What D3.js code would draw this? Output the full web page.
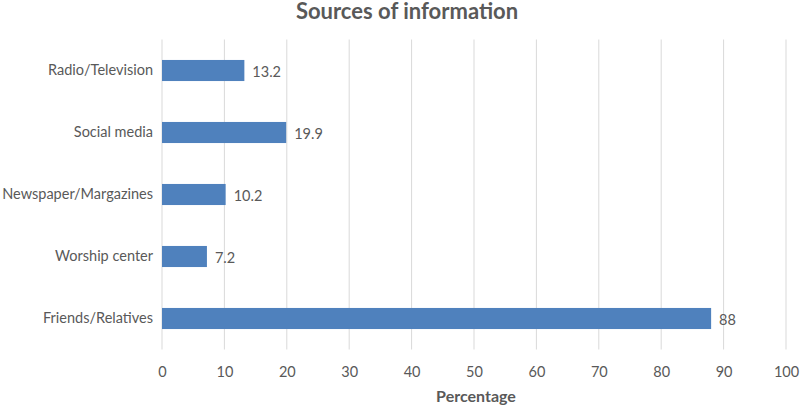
<html>
<head>
<script src="https://d3js.org/d3.v7.min.js"></script>
<style>
body { margin: 0; background: #fff; }
text { font-family: Lato, "Open Sans", sans-serif; fill: #595959; }
</style>
</head>
<body>
<svg id="chart" width="800" height="407"></svg>
<script>
var categories = ["Radio/Television", "Social media", "Newspaper/Margazines", "Worship center", "Friends/Relatives"]
var values = [13.2, 19.9, 10.2, 7.2, 88]
var xTicks = [0, 10, 20, 30, 40, 50, 60, 70, 80, 90, 100]

var svg = d3.select("#chart")
var plotLeft = 162, plotRight = 786, plotTop = 39.5, plotBottom = 349.5
var font = "Lato, 'Open Sans', sans-serif"

var x = d3.scaleLinear().domain([0, 100]).range([plotLeft, plotRight])
var y = d3.scaleBand().domain(categories).range([plotTop, plotBottom]).paddingInner(0.66).paddingOuter(0.33)

// gridlines
svg.append("g").selectAll("line")
    .data(xTicks)
    .enter().append("line")
    .attr("x1", function(d) { return x(d) }).attr("x2", function(d) { return x(d) })
    .attr("y1", plotTop).attr("y2", plotBottom)
    .attr("stroke", "#d9d9d9").attr("stroke-width", 1)

// bars
svg.append("g").selectAll("rect")
    .data(values)
    .enter().append("rect")
    .attr("x", x(0))
    .attr("y", function(d, i) { return y(categories[i]) })
    .attr("width", function(d) { return x(d) - x(0) })
    .attr("height", y.bandwidth())
    .attr("fill", "#4f81bd")

// value labels
svg.append("g").selectAll("text")
    .data(values)
    .enter().append("text")
    .attr("x", function(d) { return x(d) + 8 })
    .attr("y", function(d, i) { return y(categories[i]) + y.bandwidth() / 2 + 6 })
    .attr("font-size", "14.5px")
    .text(function(d) { return d })

// x axis
var xAxis = d3.axisBottom(x).tickValues(xTicks).tickSize(0).tickPadding(17)
var gx = svg.append("g").attr("transform", "translate(0," + plotBottom + ")").call(xAxis)
gx.select(".domain").remove()
gx.selectAll("text").attr("font-family", font).attr("font-size", "14.5px").attr("fill", "#595959")

// y axis
var yAxis = d3.axisLeft(y).tickSize(0).tickPadding(9)
var gy = svg.append("g").attr("transform", "translate(" + plotLeft + ",0)").call(yAxis)
gy.select(".domain").remove()
gy.selectAll("text").attr("font-family", font).attr("font-size", "14.5px").attr("fill", "#595959")

svg.append("text")
    .attr("x", 407).attr("y", 19)
    .attr("text-anchor", "middle")
    .attr("font-size", "22px").attr("font-weight", "bold")
    .text("Sources of information")

svg.append("text")
    .attr("x", 476).attr("y", 402)
    .attr("text-anchor", "middle")
    .attr("font-size", "16px").attr("font-weight", "bold")
    .text("Percentage")
</script>
</body>
</html>
